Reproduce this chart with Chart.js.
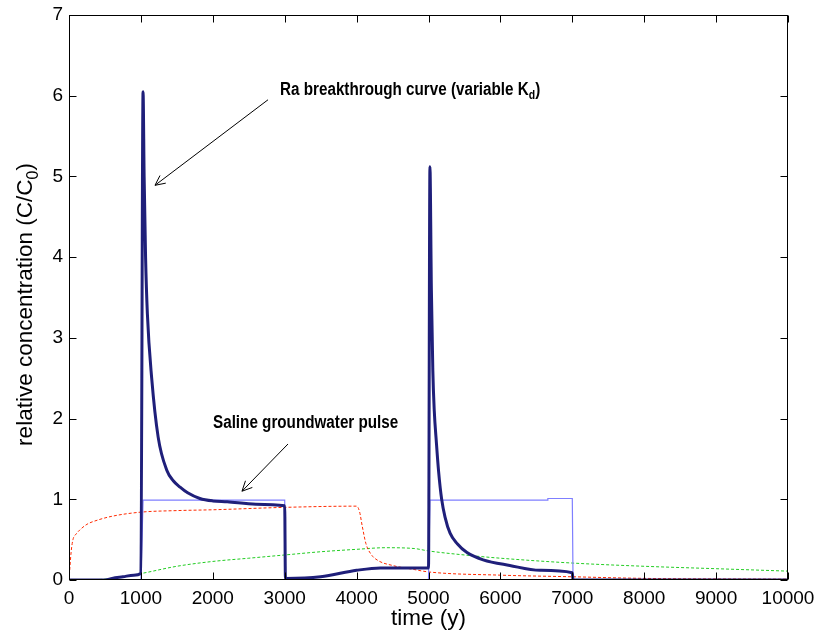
<!DOCTYPE html>
<html>
<head>
<meta charset="utf-8">
<script src="https://cdn.jsdelivr.net/npm/chart.js@4.4.0/dist/chart.umd.min.js"></script>
<style>
  html, body { margin: 0; padding: 0; background: #fff; }
</style>
</head>
<body>
<canvas id="chart" width="816" height="632"></canvas>
<script>
// values: time in years, relative concentration C/C0
const raTime = [0, 500, 600, 750, 900, 1000, 1030, 1045, 1065, 1090, 1150, 1240, 1360, 1450, 1545, 1650, 1820, 2000, 2200, 2600, 3000, 3010, 3500, 4000, 4330, 5000, 5020, 5040, 5060, 5080, 5110, 5140, 5183, 5230, 5300, 5400, 5535, 5760, 6130, 6550, 7000, 7010, 10000];
const raConc = [0, 0, 0.02, 0.04, 0.06, 0.08, 6.05, 5.0, 4.0, 3.3, 2.5, 1.77, 1.36, 1.23, 1.15, 1.08, 1.01, 0.98, 0.97, 0.94, 0.92, 0.02, 0.04, 0.12, 0.15, 0.15, 5.12, 3.6, 2.6, 2.1, 1.7, 1.35, 1.0, 0.78, 0.58, 0.45, 0.34, 0.25, 0.18, 0.12, 0.09, 0.0, 0.0];

const salineTime = [0, 1000, 1030, 3000, 3010, 5000, 5020, 6650, 6660, 7000, 7010, 10000];
const salineConc = [0, 0, 0.99, 0.99, 0, 0, 0.99, 0.99, 1.01, 1.01, 0, 0];

const redTime = [0, 30, 55, 100, 150, 250, 390, 600, 990, 1500, 2000, 3000, 4000, 4040, 4080, 4130, 4200, 4300, 4500, 4800, 5000, 6000, 7000, 8000, 10000];
const redConc = [0, 0.35, 0.5, 0.57, 0.62, 0.69, 0.74, 0.79, 0.84, 0.86, 0.87, 0.9, 0.915, 0.85, 0.66, 0.45, 0.32, 0.24, 0.18, 0.13, 0.1, 0.06, 0.04, 0.02, 0.01];

const greenTime = [0, 500, 1000, 1500, 2000, 2500, 3000, 3500, 4000, 4400, 4800, 5000, 5500, 6000, 7000, 8000, 9000, 10000];
const greenConc = [0, 0.01, 0.08, 0.17, 0.23, 0.27, 0.31, 0.35, 0.38, 0.40, 0.39, 0.36, 0.31, 0.27, 0.21, 0.17, 0.14, 0.11];

const xTickValues = [0, 1000, 2000, 3000, 4000, 5000, 6000, 7000, 8000, 9000, 10000];
const yTickValues = [0, 1, 2, 3, 4, 5, 6, 7];

const toPoints = (xs, ys) => xs.map((x, i) => ({ x: x, y: ys[i] }));

const labelFont = '"Liberation Sans", Arial, sans-serif';

function drawParts(ctx, parts, x, y, size, family, bold) {
  // draw text with an optional subscript piece, starting at x
  let cx = x;
  parts.forEach(p => {
    const s = p.sub ? Math.round(size * 0.7) : size;
    ctx.font = (bold ? 'bold ' : '') + s + 'px ' + family;
    ctx.fillText(p.t, cx, p.sub ? y + size * 0.25 : y);
    cx += ctx.measureText(p.t).width;
  });
  return cx - x;
}

function measureParts(ctx, parts, size, family, bold) {
  let w = 0;
  parts.forEach(p => {
    const s = p.sub ? Math.round(size * 0.7) : size;
    ctx.font = (bold ? 'bold ' : '') + s + 'px ' + family;
    w += ctx.measureText(p.t).width;
  });
  return w;
}

// condensed bold note: squeeze the text horizontally, like the narrow font of the original
function drawNote(ctx, parts, x, y, squeeze) {
  ctx.save();
  ctx.translate(x, y);
  ctx.scale(squeeze, 1);
  drawParts(ctx, parts, 0, 0, 17.5, labelFont, true);
  ctx.restore();
}

function arrow(ctx, x0, y0, x1, y1) {
  ctx.beginPath();
  ctx.moveTo(x0, y0);
  ctx.lineTo(x1, y1);
  const ang = Math.atan2(y0 - y1, x0 - x1);
  const len = 11, spread = 0.45;
  ctx.moveTo(x1 + len * Math.cos(ang + spread), y1 + len * Math.sin(ang + spread));
  ctx.lineTo(x1, y1);
  ctx.lineTo(x1 + len * Math.cos(ang - spread), y1 + len * Math.sin(ang - spread));
  ctx.stroke();
}

const frameAndNotes = {
  id: 'frameAndNotes',
  afterDatasetsDraw(chart) {
    const ctx = chart.ctx;
    const a = chart.chartArea;
    const x = chart.scales.x, y = chart.scales.y;
    const L = Math.round(a.left) + 0.5, R = Math.round(a.right) - 0.5;
    const T = Math.round(a.top) + 0.5, B = Math.round(a.bottom) - 0.5;
    ctx.save();
    ctx.strokeStyle = '#000';
    ctx.lineWidth = 1;
    ctx.strokeRect(L, T, R - L, B - T);
    ctx.beginPath();
    xTickValues.forEach(v => {
      const px = Math.round(x.getPixelForValue(v)) + 0.5;
      ctx.moveTo(px, B); ctx.lineTo(px, B - 7);
      ctx.moveTo(px, T); ctx.lineTo(px, T + 7);
    });
    yTickValues.forEach(v => {
      const py = Math.round(y.getPixelForValue(v)) + 0.5;
      ctx.moveTo(L, py); ctx.lineTo(L + 7, py);
      ctx.moveTo(R, py); ctx.lineTo(R - 7, py);
    });
    ctx.stroke();

    // annotations
    ctx.fillStyle = '#000';
    ctx.textBaseline = 'alphabetic';
    ctx.textAlign = 'left';
    drawNote(ctx, [{ t: 'Ra breakthrough curve (variable K' }, { t: 'd', sub: true }, { t: ')' }],
      x.getPixelForValue(2935), y.getPixelForValue(6.01), 0.87);
    drawNote(ctx, [{ t: 'Saline groundwater pulse' }],
      x.getPixelForValue(2003), y.getPixelForValue(1.88), 0.87);
    ctx.lineWidth = 1;
    arrow(ctx, x.getPixelForValue(2768), y.getPixelForValue(5.95), x.getPixelForValue(1196), y.getPixelForValue(4.89));
    arrow(ctx, x.getPixelForValue(3046), y.getPixelForValue(1.685), x.getPixelForValue(2406), y.getPixelForValue(1.10));

    // y axis title with subscript
    const parts = [{ t: 'relative concentration (C/C' }, { t: '0', sub: true }, { t: ')' }];
    const w = measureParts(ctx, parts, 22.5, labelFont, false);
    ctx.translate(32, (a.top + a.bottom) / 2 + 7);
    ctx.rotate(-Math.PI / 2);
    drawParts(ctx, parts, -w / 2, 0, 22.5, labelFont, false);
    ctx.restore();
  }
};

new Chart(document.getElementById('chart'), {
  type: 'line',
  data: {
    datasets: [
      {
        label: 'Ra breakthrough',
        data: toPoints(raTime, raConc),
        borderColor: '#1f1f7a',
        borderWidth: 3,
        pointRadius: 0,
        cubicInterpolationMode: 'monotone'
      },
      {
        label: 'Saline pulse',
        data: toPoints(salineTime, salineConc),
        borderColor: '#7f7fff',
        borderWidth: 1.2,
        pointRadius: 0,
        tension: 0
      },
      {
        label: 'red',
        data: toPoints(redTime, redConc),
        borderColor: '#ff2a00',
        borderWidth: 1,
        borderDash: [3, 2],
        pointRadius: 0,
        cubicInterpolationMode: 'monotone'
      },
      {
        label: 'green',
        data: toPoints(greenTime, greenConc),
        borderColor: '#22cc22',
        borderWidth: 1,
        borderDash: [3, 2],
        pointRadius: 0,
        cubicInterpolationMode: 'monotone'
      }
    ]
  },
  options: {
    responsive: false,
    animation: false,
    events: [],
    layout: { padding: { left: 0, right: 0, top: 15, bottom: 0 } },
    plugins: { legend: { display: false }, tooltip: { enabled: false } },
    scales: {
      x: {
        type: 'linear',
        min: 0, max: 10000,
        afterBuildTicks: s => { s.ticks = xTickValues.map(v => ({ value: v })); },
        afterFit: s => { s.height = 52; s.paddingLeft = 0; s.paddingRight = 28; },
        grid: { display: false, drawTicks: false },
        border: { display: false },
        ticks: { color: '#000', padding: 7, maxRotation: 0, autoSkip: false, callback: v => String(v), font: { family: labelFont, size: 19 } },
        title: { display: true, text: 'time (y)', color: '#000', padding: 0, font: { family: labelFont, size: 22.5 } }
      },
      y: {
        min: 0, max: 7,
        afterBuildTicks: s => { s.ticks = yTickValues.map(v => ({ value: v })); },
        afterFit: s => { s.width = 69; s.paddingTop = 0; s.paddingBottom = 0; },
        grid: { display: false, drawTicks: false },
        border: { display: false },
        ticks: { color: '#000', padding: 6, callback: v => String(v), font: { family: labelFont, size: 19 } }
      }
    }
  },
  plugins: [frameAndNotes]
});
</script>
</body>
</html>
